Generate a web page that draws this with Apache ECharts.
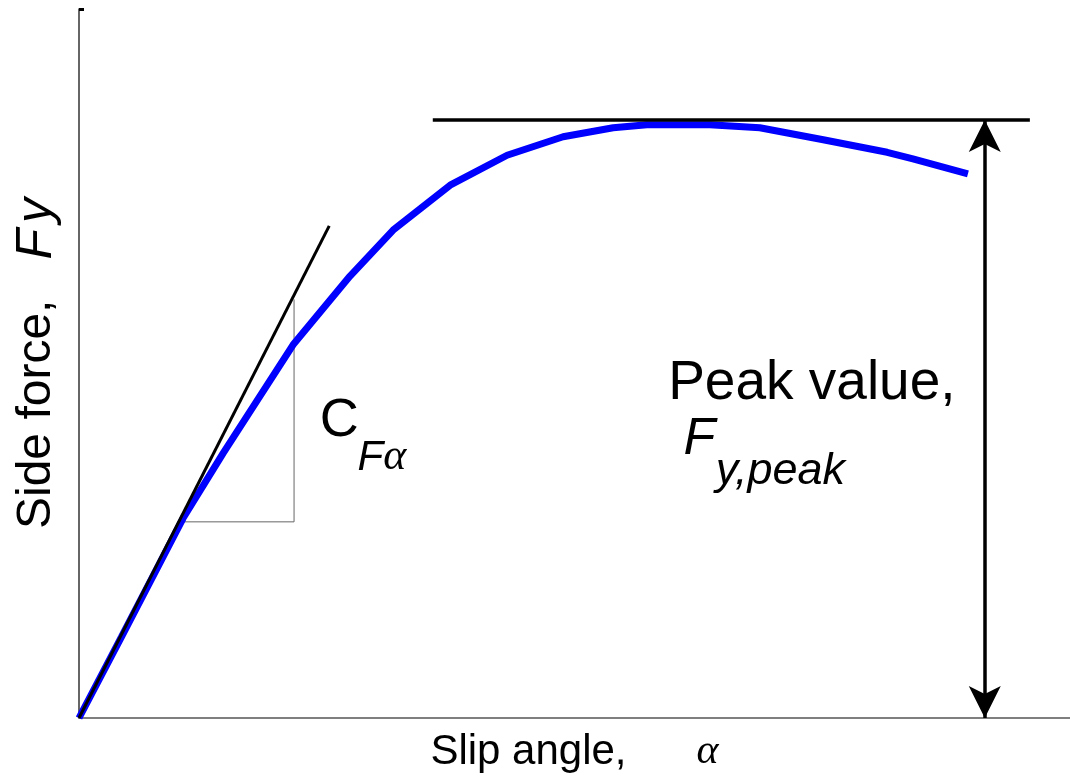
<!DOCTYPE html>
<html>
<head>
<meta charset="utf-8">
<script src="https://cdn.jsdelivr.net/npm/echarts@6/dist/echarts.min.js"></script>
<style>
  html, body { margin: 0; padding: 0; background: #fff; }
  #chart { width: 1070px; height: 783px; }
</style>
</head>
<body>
<div id="chart"></div>
<script>
// Tyre side-force curve: slip angle (deg) vs normalised side force (peak = 1)
const slipAngle = [0, 0.86, 2.10, 2.91, 4.32, 5.47, 6.34, 7.49, 8.64, 9.77, 10.78, 11.46, 12.73, 13.74, 15.02, 16.31, 16.83, 17.94];
const sideForce = [0, 0.136, 0.334, 0.443, 0.624, 0.739, 0.816, 0.891, 0.941, 0.972, 0.987, 0.992, 0.992, 0.987, 0.967, 0.946, 0.935, 0.910];

// Cornering-stiffness tangent through the origin
const tangentX = [0, 5.05];
const tangentY = [0, 0.823];

// Slope triangle under the tangent
const triangleX = [2.12, 4.34, 4.34];
const triangleY = [0.328, 0.328, 0.70];

// Peak level and the double arrow measuring it
const peakValue = 1.0;
const peakLineX = [7.14, 19.19];
const peakArrowX = 18.28;

const xMax = 20;
const yMax = 1.1856;

const pairs = (xs, ys) => xs.map((x, i) => [x, ys[i]]);

const sans = 'Liberation Sans, Arial, sans-serif';
const serif = 'Liberation Serif, DejaVu Serif, serif';

// A text label pinned to a data coordinate (left edge, vertical middle)
function textPoint(x, y, text, style) {
  return {
    value: [x, y],
    label: Object.assign({
      show: true, formatter: text, position: 'right', distance: 0,
      color: '#000', fontFamily: sans, align: 'left', verticalAlign: 'middle'
    }, style)
  };
}

const chart = echarts.init(document.getElementById('chart'), null, { renderer: 'canvas' });

chart.setOption({
  animation: false,
  backgroundColor: '#fff',
  grid: { left: 79, right: 0, top: 9, bottom: 65 },
  xAxis: {
    type: 'value', min: 0, max: xMax,
    axisLine: { show: true, lineStyle: { color: '#555', width: 1.5 } },
    axisTick: { show: false }, axisLabel: { show: false }, splitLine: { show: false },
    name: '{t|Slip angle,      }{a|α}',
    nameLocation: 'middle', nameGap: 13,
    nameTextStyle: {
      rich: {
        t: { fontFamily: sans, fontSize: 42, color: '#000' },
        a: { fontFamily: serif, fontStyle: 'italic', fontSize: 42, color: '#000' }
      }
    }
  },
  yAxis: {
    type: 'value', min: 0, max: yMax,
    axisLine: { show: true, lineStyle: { color: '#333', width: 1.5 } },
    axisTick: { show: true, inside: true, length: 5, customValues: [yMax], lineStyle: { color: '#000', width: 3 } },
    axisLabel: { show: false }, splitLine: { show: false },
    name: '{t|Side force,   }{f|F}{y|y}',
    nameLocation: 'middle', nameGap: 17, nameRotate: 90,
    nameTextStyle: {
      rich: {
        t: { fontFamily: sans, fontSize: 48, color: '#000' },
        f: { fontFamily: sans, fontStyle: 'italic', fontSize: 50, color: '#000' },
        y: { fontFamily: sans, fontStyle: 'italic', fontSize: 50, color: '#000', padding: [0, 0, 0, 6] }
      }
    }
  },
  series: [
    {
      name: 'Slope triangle', type: 'line', data: pairs(triangleX, triangleY),
      showSymbol: false, symbol: 'none', z: 2,
      lineStyle: { color: '#666', width: 1 }
    },
    {
      name: 'Side force', type: 'line', data: pairs(slipAngle, sideForce),
      showSymbol: false, symbol: 'none', smooth: false, z: 3,
      lineStyle: { color: '#0000ff', width: 7 }
    },
    {
      name: 'Tangent', type: 'line', data: pairs(tangentX, tangentY),
      showSymbol: false, symbol: 'none', z: 4,
      lineStyle: { color: '#000', width: 3 }
    },
    {
      name: 'Peak level', type: 'line', data: peakLineX.map(x => [x, peakValue]),
      showSymbol: false, symbol: 'none', z: 4,
      lineStyle: { color: '#000', width: 3.5 },
      markLine: {
        silent: true, symbol: ['arrow', 'arrow'], symbolSize: [24, 32],
        label: { show: false },
        lineStyle: { color: '#000', width: 3.5, type: 'solid' },
        data: [[{ coord: [peakArrowX, 0] }, { coord: [peakArrowX, peakValue] }]]
      }
    },
    {
      name: 'Annotations', type: 'scatter', symbolSize: 0, z: 5, silent: true,
      itemStyle: { opacity: 1 },
      data: [
        textPoint(11.89, 0.558, 'Peak value,', { fontSize: 55 }),
        textPoint(12.20, 0.466, 'F', { fontSize: 52, fontStyle: 'italic' }),
        textPoint(12.85, 0.413, 'y,peak', { fontSize: 45, fontStyle: 'italic' }),
        textPoint(4.86, 0.497, 'C', { fontSize: 54 }),
        textPoint(5.62, 0.435, '{f|F}{a|α}', {
          rich: {
            f: { fontFamily: sans, fontStyle: 'italic', fontSize: 42, color: '#000' },
            a: { fontFamily: serif, fontStyle: 'italic', fontSize: 44, color: '#000' }
          }
        })
      ]
    }
  ]
});
</script>
</body>
</html>
